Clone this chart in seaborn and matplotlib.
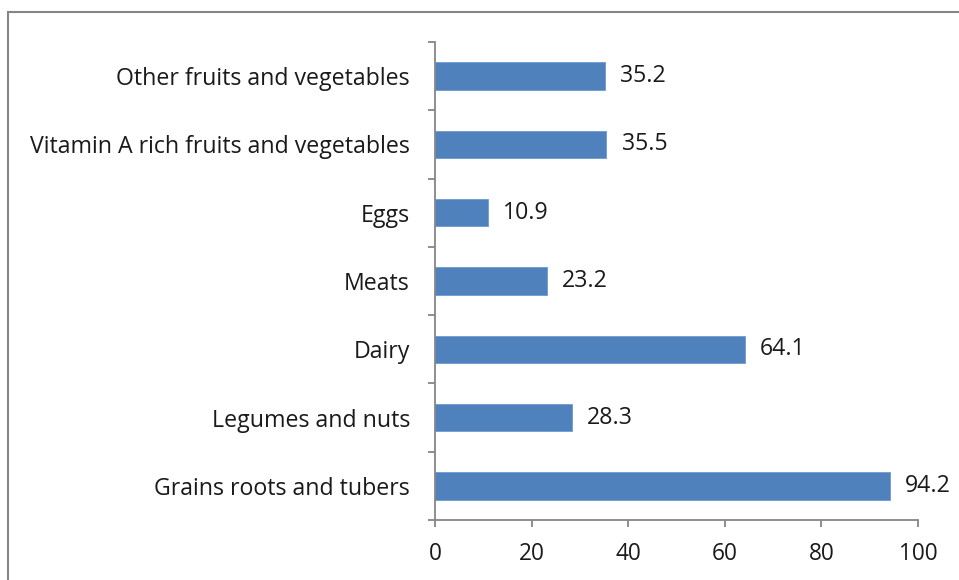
import matplotlib
matplotlib.use("Agg")
import matplotlib.pyplot as plt
import seaborn as sns
import pandas as pd
from matplotlib.patches import Rectangle
from matplotlib.ticker import FixedLocator

categories = [
    "Other fruits and vegetables",
    "Vitamin A rich fruits and vegetables",
    "Eggs",
    "Meats",
    "Dairy",
    "Legumes and nuts",
    "Grains roots and tubers",
]
values = [35.2, 35.5, 10.9, 23.2, 64.1, 28.3, 94.2]
x_ticks = [0, 20, 40, 60, 80, 100]

df = pd.DataFrame({"category": categories, "value": values})

sns.set_theme(style="white")
plt.rcParams["font.family"] = ["Open Sans", "DejaVu Sans"]

fig = plt.figure(figsize=(9.59, 5.80), dpi=100)
ax = fig.add_axes([435 / 959, (580 - 520) / 580, (918 - 435) / 959, (520 - 42) / 580])

sns.barplot(data=df, y="category", x="value", orient="h", color="#4F81BD",
            saturation=1, width=0.4, edgecolor="#6F9BD1", linewidth=0.6, ax=ax)

ax.set_xlim(0, 100)
ax.set_ylim(len(categories) - 0.5, -0.5)
ax.set_xticks(x_ticks)
ax.set_xticklabels([str(t) for t in x_ticks])
ax.set_xlabel("")
ax.set_ylabel("")

gray = "#868686"
for s in ["top", "right"]:
    ax.spines[s].set_visible(False)
for s in ["left", "bottom"]:
    ax.spines[s].set_color(gray)
    ax.spines[s].set_linewidth(1.3)

fs = 16.7
ax.yaxis.set_minor_locator(FixedLocator([i - 0.5 for i in range(len(categories) + 1)]))
ax.tick_params(axis="y", which="major", length=0, pad=18, labelsize=fs, labelcolor="#1a1a1a")
ax.tick_params(axis="y", which="minor", length=5, width=1.3, color=gray, left=True)
ax.tick_params(axis="x", which="major", length=5, width=1.3, color=gray, bottom=True,
               pad=11, labelsize=16.3, labelcolor="#1a1a1a")

for c in ax.containers:
    ax.bar_label(c, labels=[f"{v:.1f}" for v in values], padding=11, fontsize=fs, color="#1a1a1a")

fig.patches.append(Rectangle((8 / 959, -0.05), 1.1, (580 - 12) / 580 + 0.05,
                             transform=fig.transFigure, fill=False,
                             edgecolor=gray, linewidth=1.5, zorder=0))

fig.savefig("out.png", dpi=100)
